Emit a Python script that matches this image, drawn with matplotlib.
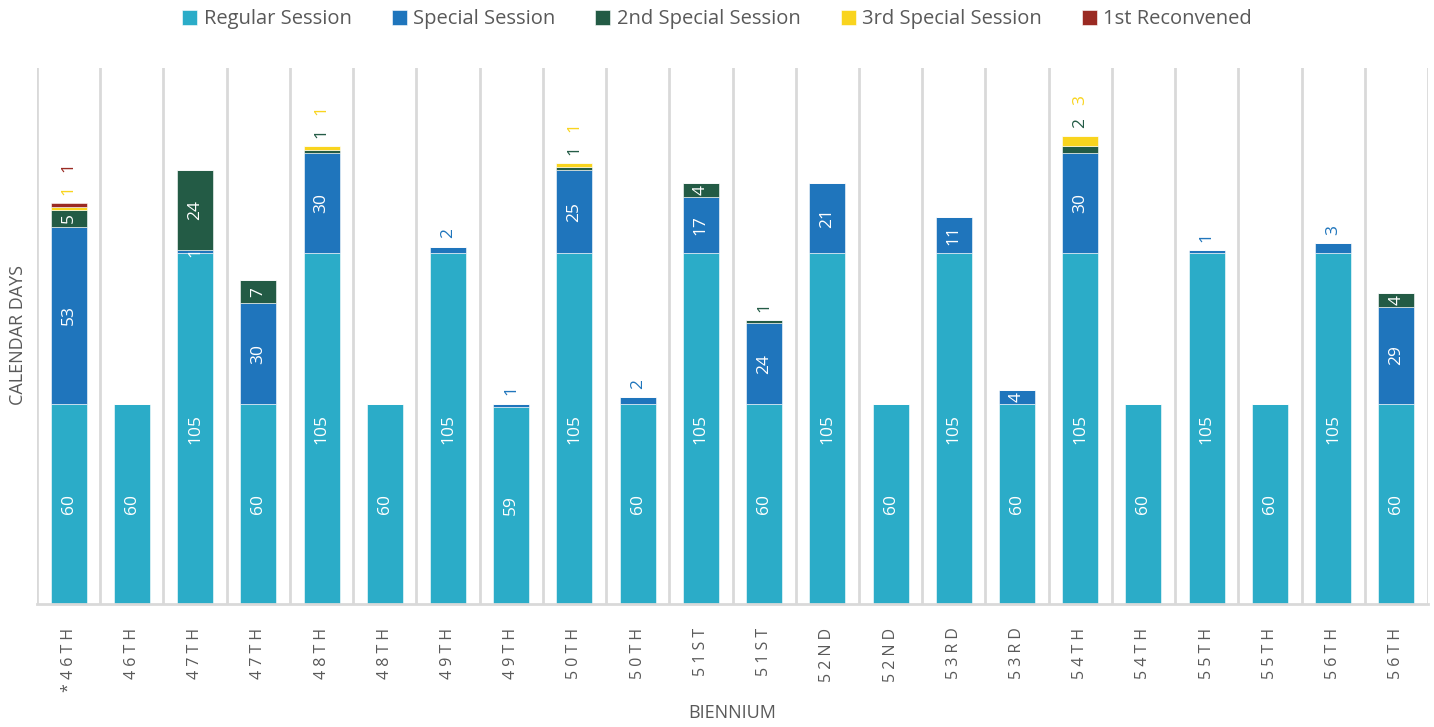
import numpy as np
import matplotlib as mpl
mpl.use('Agg')
import matplotlib.pyplot as plt

plt.rcParams['font.family'] = ['Open Sans', 'DejaVu Sans']

# data
biennium = ['*46TH', '46TH', '47TH', '47TH', '48TH', '48TH', '49TH', '49TH',
            '50TH', '50TH', '51ST', '51ST', '52ND', '52ND', '53RD', '53RD',
            '54TH', '54TH', '55TH', '55TH', '56TH', '56TH']
regular = [60, 60, 105, 60, 105, 60, 105, 59, 105, 60, 105, 60, 105, 60, 105, 60, 105, 60, 105, 60, 105, 60]
special = [53, 0, 1, 30, 30, 0, 2, 1, 25, 2, 17, 24, 21, 0, 11, 4, 30, 0, 1, 0, 3, 29]
special2 = [5, 0, 24, 7, 1, 0, 0, 0, 1, 0, 4, 1, 0, 0, 0, 0, 2, 0, 0, 0, 0, 4]
special3 = [1, 0, 0, 0, 1, 0, 0, 0, 1, 0, 0, 0, 0, 0, 0, 0, 3, 0, 0, 0, 0, 0]
reconvened = [1, 0, 0, 0, 0, 0, 0, 0, 0, 0, 0, 0, 0, 0, 0, 0, 0, 0, 0, 0, 0, 0]

series = [('Regular Session', regular, '#2BACC8'),
          ('Special Session', special, '#1F75BC'),
          ('2nd Special Session', special2, '#235B45'),
          ('3rd Special Session', special3, '#F9D41E'),
          ('1st Reconvened', reconvened, '#9A2A22')]

grey = '#595959'
fig = plt.figure(figsize=(14.34, 7.27), dpi=100)
ax = fig.add_axes([37/1434, 1 - 604/727, (1428-37)/1434, (604-68)/727])

x = np.arange(len(biennium))
bottom = np.zeros(len(biennium))
n_above = np.zeros(len(biennium), dtype=int)
tops = np.array([sum(s[1][i] for s in series) for i in range(len(biennium))])

for name, vals, col in series:
    vals = np.array(vals, dtype=float)
    ax.bar(x, vals, 0.57, bottom=bottom, color=col, label=name,
           edgecolor='white', linewidth=0.4)
    for i, v in enumerate(vals):
        if v == 0:
            continue
        # small segments get their label above the bar, except the 47TH special one
        inside = v >= 4 or (i == 2 and name == 'Special Session')
        if inside:
            ax.text(x[i], bottom[i] + v / 2, f'{int(v)}', rotation=90,
                    ha='center', va='center', color='white', fontsize=12.5)
        else:
            off = 9.5 + 16.5 * n_above[i]
            ax.annotate(f'{int(v)}', (x[i], tops[i]), xytext=(0, off),
                        textcoords='offset points', rotation=90,
                        ha='center', va='center', color=col, fontsize=12.5)
            n_above[i] += 1
    bottom += vals

ax.set_xlim(-0.5, len(biennium) - 0.5)
ax.set_ylim(0, 160.5)
ax.set_yticks([])
ax.set_xticks(x)
ax.set_xticklabels([' '.join(b) for b in biennium], rotation=90, fontsize=11.5,
                   color=grey, va='top')
ax.tick_params(axis='x', length=0, pad=17)
for b in np.arange(-0.5, len(biennium), 1.0):
    ax.axvline(b, color='#D9D9D9', lw=2, zorder=0)
for s in ['top', 'right', 'left']:
    ax.spines[s].set_visible(False)
ax.spines['bottom'].set_color('#D9D9D9')
ax.spines['bottom'].set_linewidth(2)

fig.text(18/1434, 1 - 335/727, 'CALENDAR DAYS', rotation=90, ha='center', va='center',
         color=grey, fontsize=13)
fig.text(732/1434, 1 - 713/727, 'BIENNIUM', ha='center', va='center',
         color=grey, fontsize=13)

fig.legend(loc='upper center', bbox_to_anchor=(0.5, 1.012), ncol=5, frameon=False,
           handlelength=0.75, handleheight=0.75, handletextpad=0.3,
           columnspacing=2.0, fontsize=14.5, labelcolor=grey)

plt.savefig('out.png', dpi=100)
